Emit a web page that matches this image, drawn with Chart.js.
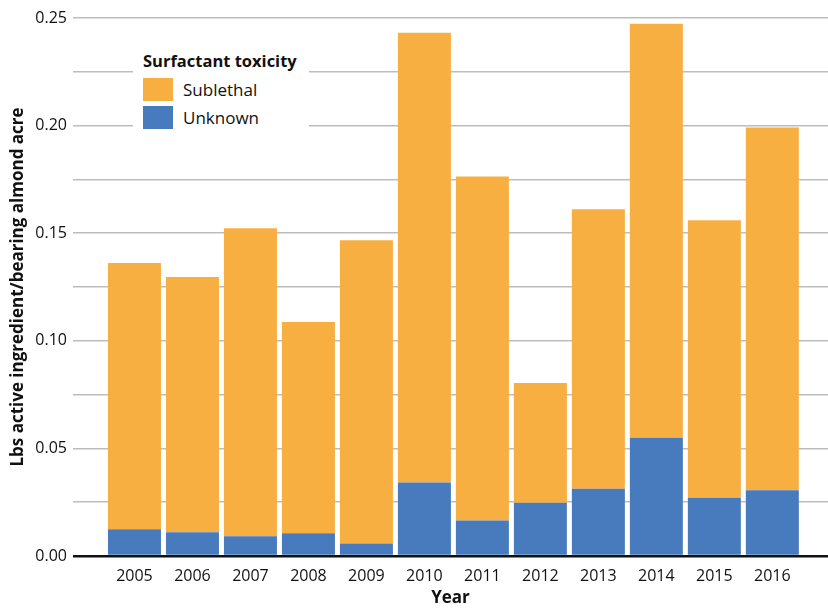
<!DOCTYPE html>
<html>
<head>
<meta charset="utf-8">
<script src="https://cdn.jsdelivr.net/npm/chart.js@4/dist/chart.umd.min.js"></script>
<style>
  html, body { margin: 0; padding: 0; background: #fff; }
  #wrap { position: relative; width: 828px; height: 609px; }
  #legend {
    position: absolute; left: 133px; top: 40px; width: 176px; height: 96px;
    background: #fff; font-family: "Open Sans", sans-serif; color: #111;
  }
  #legend .title { position: absolute; left: 10px; font-weight: bold; font-size: 16.5px; white-space: nowrap; }
  #legend .item { position: absolute; left: 10px; height: 23px; font-size: 17px; line-height: 23px; white-space: nowrap; }
  #legend .sw { display: inline-block; width: 30px; height: 23px; vertical-align: top; margin-right: 10px; }
</style>
</head>
<body>
<div id="wrap">
  <canvas id="c" width="828" height="609"></canvas>
  <div id="legend"></div>
</div>
<script>
// Jahre und Werte (lbs a.i. pro Hektar Mandelanbau)
var YEARS = [2005, 2006, 2007, 2008, 2009, 2010, 2011, 2012, 2013, 2014, 2015, 2016];
var UNKNOWN = [0.0124, 0.0110, 0.0092, 0.0106, 0.0058, 0.0341, 0.0165, 0.0248, 0.0313, 0.0549, 0.0271, 0.0305];
var SUBLETHAL = [0.1238, 0.1186, 0.1431, 0.0981, 0.1409, 0.2091, 0.1599, 0.0556, 0.1298, 0.1924, 0.1289, 0.1686];
var Y_TICKS = [0, 0.05, 0.10, 0.15, 0.20, 0.25];

var ORANGE = "#f8af42";
var BLUE = "#487bbd";
var FONT = "'Open Sans', sans-serif";

function punkte(werte) {
  return YEARS.map(function (j, i) { return { x: j, y: werte[i] }; });
}

// Legende als HTML über dem Plot (mit weißem Hintergrund)
var leg = document.getElementById("legend");
leg.innerHTML =
  '<div class="title" style="top:9px">Surfactant toxicity</div>' +
  '<div class="item" style="top:38px"><span class="sw" style="background:' + ORANGE + '"></span>Sublethal</div>' +
  '<div class="item" style="top:66px"><span class="sw" style="background:' + BLUE + '"></span>Unknown</div>';

new Chart(document.getElementById("c"), {
  type: "bar",
  data: {
    datasets: [
      { label: "Unknown", data: punkte(UNKNOWN), backgroundColor: BLUE, borderWidth: 0 },
      { label: "Sublethal", data: punkte(SUBLETHAL), backgroundColor: ORANGE, borderWidth: 0 }
    ]
  },
  options: {
    responsive: false,
    animation: false,
    layout: { padding: { top: 18, right: 0, left: 0, bottom: 0 } },
    datasets: { bar: { categoryPercentage: 1, barPercentage: 0.914 } },
    plugins: { legend: { display: false }, tooltip: { enabled: false } },
    scales: {
      x: {
        type: "linear",
        stacked: true,
        offset: false,
        min: 2003.94,
        max: 2016.96,
        grid: { display: false, drawTicks: false, offset: false },
        border: { display: false },
        afterBuildTicks: function (s) {
          s.ticks = YEARS.map(function (j) { return { value: j }; });
        },
        afterFit: function (s) { s.height = 53; },
        ticks: {
          padding: 11,
          color: "#111",
          font: { family: FONT, size: 16 },
          callback: function (v) { return String(v); }
        },
        title: {
          display: true, text: "Year", color: "#111",
          font: { family: FONT, size: 17, weight: "bold" },
          padding: { top: 0, bottom: 1 }
        }
      },
      y: {
        stacked: true,
        min: 0,
        max: 0.25,
        border: { display: false },
        grid: {
          drawTicks: false,
          color: function (ctx) { return ctx.tick && ctx.tick.value === 0 ? "#111" : "#bdbdbd"; },
          lineWidth: function (ctx) { return ctx.tick && ctx.tick.value === 0 ? 2.5 : 1.5; }
        },
        afterBuildTicks: function (s) {
          var t = [];
          for (var i = 0; i <= 10; i++) t.push({ value: i * 0.025 });
          s.ticks = t;
        },
        afterFit: function (s) { s.width = 73; },
        ticks: {
          padding: 6,
          color: "#111",
          font: { family: FONT, size: 16 },
          callback: function (v) {
            var hit = Y_TICKS.some(function (t) { return Math.abs(t - v) < 1e-9; });
            return hit ? v.toFixed(2) : "";
          }
        },
        title: {
          display: true, text: "Lbs active ingredient/bearing almond acre", color: "#111",
          font: { family: FONT, size: 17, weight: "bold" },
          padding: { top: 8, bottom: 0 }
        }
      }
    }
  }
});
</script>
</body>
</html>
